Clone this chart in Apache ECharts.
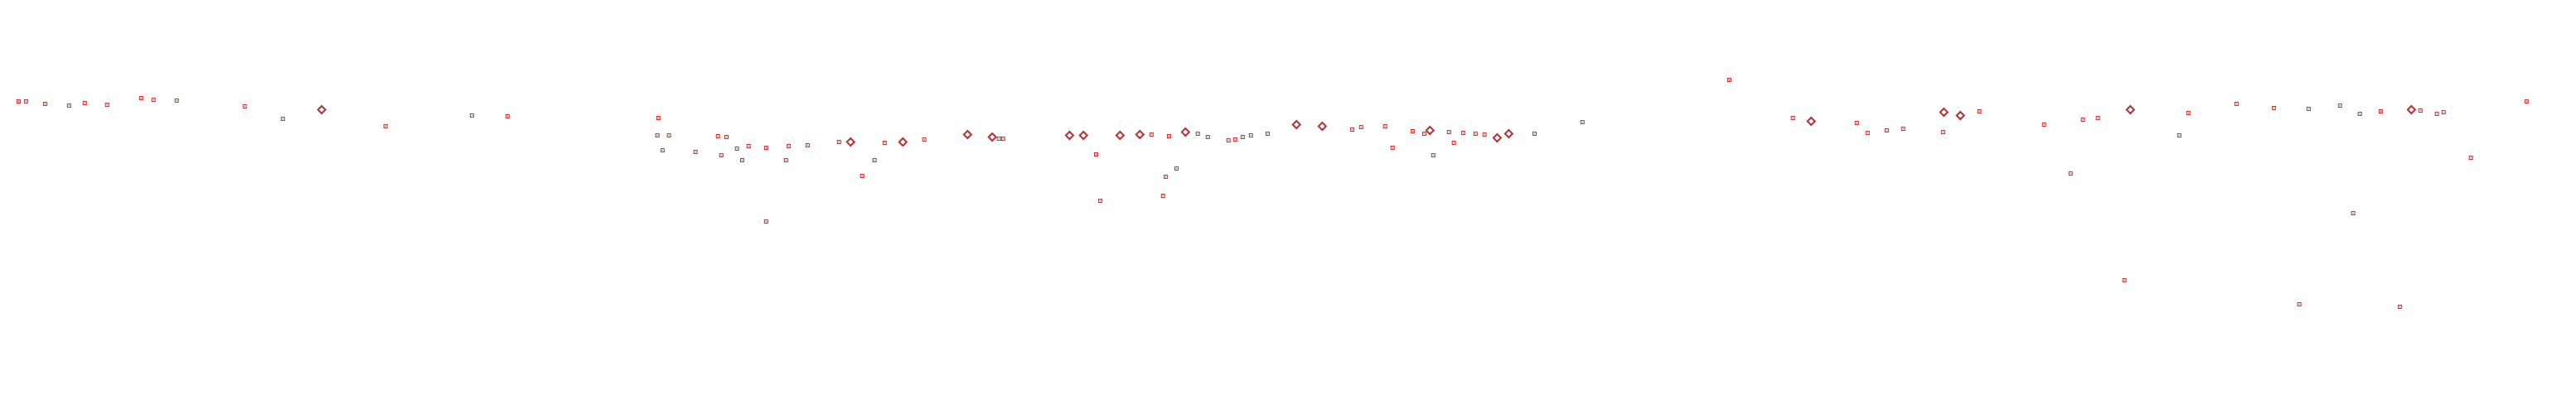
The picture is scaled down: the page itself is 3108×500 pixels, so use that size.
<!DOCTYPE html>
<html>
<head>
<meta charset="utf-8">
<script src="https://cdn.jsdelivr.net/npm/echarts@6/dist/echarts.min.js"></script>
<style>
html,body{margin:0;padding:0;background:#fff;}
#chart{width:3108px;height:500px;}
</style>
</head>
<body>
<div id="chart"></div>
<script>
// Series 1 (open squares): x positions and values
const squareX = [7.2,10.1,17.5,26.8,32.9,41.6,54.8,59.6,68.6,95.0,109.8,149.7,183.2,197.0,255.6,255.2,259.7,257.2,270.0,278.7,282.0,280.0,286.1,290.6,288.1,297.4,297.4,306.1,305.1,313.5,325.7,334.7,339.5,343.4,358.8,387.8,389.4,425.5,427.1,447.0,453.8,452.5,451.5,456.7,465.0,468.9,476.9,479.5,482.4,485.6,492.1,524.9,528.4,537.7,540.6,548.4,552.9,556.4,562.5,564.4,568.0,572.8,576.3,595.7,614.3,671.3,696.0,720.8,725.0,732.4,738.8,754.3,768.4,793.5,803.8,808.6,814.4,824.7,846.0,849.5,868.2,882.7,892.6,896.2,908.4,916.1,913.5,924.2,939.6,931.6,946.0,948.6,959.2,980.8];
const squareY = [75.5,75.5,74.9,74.5,75.1,74.7,76.3,75.9,75.7,74.3,71.3,69.5,72.1,71.9,71.5,67.3,67.3,63.7,63.3,67.1,66.9,62.5,64.1,64.7,61.3,64.3,46.5,64.7,61.3,64.9,65.7,57.5,61.3,65.5,66.3,66.5,66.5,62.7,51.5,67.5,67.1,57.3,52.7,59.3,67.7,66.9,66.1,66.3,66.9,67.3,67.7,68.7,69.3,69.5,64.3,68.3,67.7,62.5,68.1,65.5,67.9,67.7,67.5,67.7,70.5,80.7,71.5,70.3,67.9,68.5,68.9,68.1,73.1,69.9,58.1,71.1,71.5,32.3,67.3,72.7,74.9,73.9,26.5,73.7,74.5,72.5,48.5,73.1,73.3,25.9,72.5,72.9,61.9,75.5];

// Series 2 (open diamonds)
const diamondX = [124.9,330.2,350.5,375.6,385.2,415.2,420.6,434.8,442.5,460.2,503.3,513.3,555.1,581.2,585.7,703.1,754.6,761.0,827.0,936.1];
const diamondY = [73.5,65.7,65.7,67.5,66.9,67.3,67.3,67.3,67.5,68.1,69.9,69.5,68.5,66.7,67.7,70.7,72.9,72.1,73.5,73.5];

const zip = (xs, ys) => xs.map((x, i) => [x, ys[i]]);

const chart = echarts.init(document.getElementById('chart'), null, {renderer: 'canvas'});
chart.setOption({
  animation: false,
  backgroundColor: '#ffffff',
  grid: {left: 0, right: 0, top: 0, bottom: 0},
  xAxis: {type: 'value', min: 0, max: 1000, show: false},
  yAxis: {type: 'value', min: 0, max: 100, show: false},
  series: [
    {
      type: 'scatter',
      data: zip(squareX, squareY),
      symbol: 'path://M0 0H5V5H0Z M1 1V4H4V1Z M2 2H3V3H2Z',
      symbolSize: 5,
      itemStyle: {color: '#b00000'}
    },
    {
      type: 'scatter',
      data: zip(diamondX, diamondY),
      symbol: 'emptyDiamond',
      symbolSize: 9,
      itemStyle: {color: '#a00000', borderColor: '#a00000', borderWidth: 2.5}
    }
  ]
});
</script>
</body>
</html>
